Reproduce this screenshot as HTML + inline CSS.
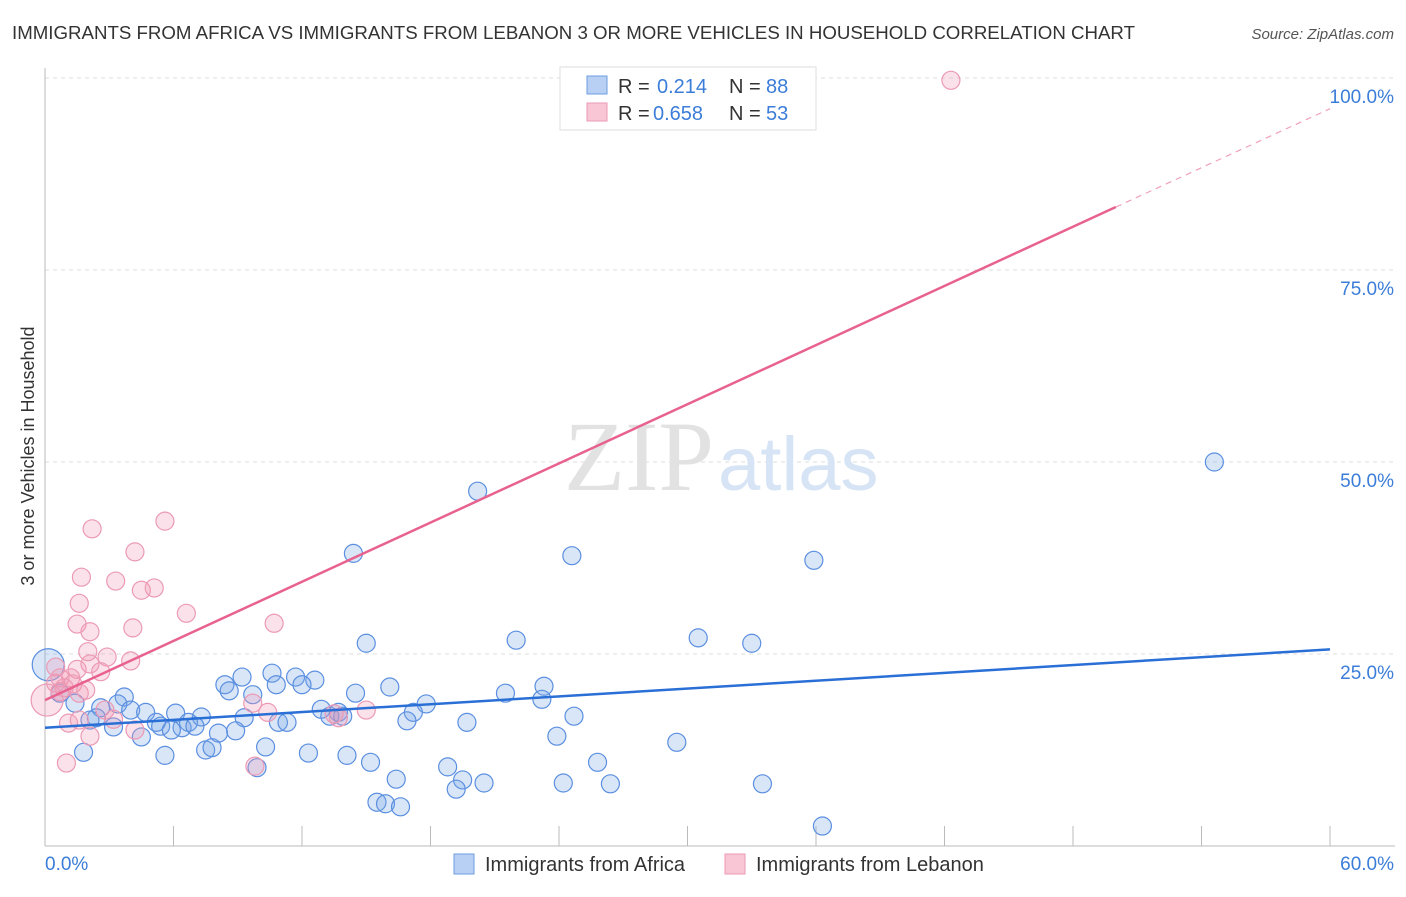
<!DOCTYPE html>
<html><head><meta charset="utf-8"><style>
body{margin:0;background:#fff;font-family:"Liberation Sans",sans-serif}
svg text{font-family:"Liberation Sans",sans-serif}
</style></head><body>
<svg width="1406" height="892" viewBox="0 0 1406 892">
<text x="12" y="39" font-size="18" fill="#333" textLength="1123" lengthAdjust="spacingAndGlyphs">IMMIGRANTS FROM AFRICA VS IMMIGRANTS FROM LEBANON 3 OR MORE VEHICLES IN HOUSEHOLD CORRELATION CHART</text>
<text x="1394" y="39" font-size="15" fill="#555" font-style="italic" text-anchor="end">Source: ZipAtlas.com</text>
<g id="grid"></g>
<text x="714" y="490" font-size="100" fill="#e2e2e2" text-anchor="end" style="font-family:'Liberation Serif',serif">ZIP</text>
<text x="718" y="490" font-size="76" fill="#d6e4f5">atlas</text>
<line x1="45" y1="68" x2="45" y2="846" stroke="#bbb"/>
<line x1="45" y1="846" x2="1395" y2="846" stroke="#bbb"/>
<g id="ticks"></g>
<g id="pts"></g>
<g id="lines"></g>
<text x="34" y="456" font-size="18" fill="#333" text-anchor="middle" transform="rotate(-90 34 456)">3 or more Vehicles in Household</text>
<text x="45" y="870" font-size="19" fill="#3b7dd8">0.0%</text>
<text x="1394" y="870" font-size="19" fill="#3b7dd8" text-anchor="end">60.0%</text>
<g>
<rect x="560" y="67" width="256" height="63" fill="#fff" stroke="#ddd"/>
<rect x="587" y="76" width="20" height="18" fill="#b7d0f3" stroke="#6c9de0"/>
<rect x="587" y="103" width="20" height="18" fill="#f8c6d5" stroke="#ec9ab4"/>
<text x="618" y="93" font-size="20" fill="#333">R = <tspan x="657" fill="#3b7dd8">0.214</tspan><tspan x="729">N = </tspan><tspan x="766" fill="#3b7dd8">88</tspan></text>
<text x="618" y="120" font-size="20" fill="#333">R = <tspan x="653" fill="#3b7dd8">0.658</tspan><tspan x="729">N = </tspan><tspan x="766" fill="#3b7dd8">53</tspan></text>
</g>
<g>
<rect x="454" y="854" width="20" height="20" fill="#b7d0f3" stroke="#6c9de0"/>
<text x="485" y="871" font-size="20" fill="#333">Immigrants from Africa</text>
<rect x="725" y="854" width="20" height="20" fill="#f8c6d5" stroke="#ec9ab4"/>
<text x="756" y="871" font-size="20" fill="#333">Immigrants from Lebanon</text>
</g>
</svg>
<script>
const yTicks=[25,50,75,100];
const yTickLabels=["25.0%","50.0%","75.0%","100.0%"];
const xTicks=[6,12,18,24,30,36,42,48,54,60];
const africaX=[54.6,20.2,14.4,24.6,35.9,15.0,22.0,30.5,33.0,0.15,10.6,9.2,11.7,12.6,8.4,10.8,12.0,16.1,23.3,8.6,14.5,21.5,9.7,23.2,3.7,3.4,17.8,1.4,0.7,2.6,4.0,4.7,12.9,13.7,17.2,6.1,7.3,24.7,13.3,13.9,2.4,6.7,9.3,16.9,2.1,10.9,11.3,19.7,3.2,5.2,5.4,6.4,7.0,5.9,8.1,8.9,4.5,23.9,29.5,10.3,7.5,7.8,1.8,5.6,12.3,14.1,15.2,25.8,18.8,9.9,16.4,19.5,20.5,24.2,26.4,33.5,19.2,15.5,15.9,16.6,36.3];
const africaY=[50.0,46.2,38.1,37.8,37.2,26.4,26.8,27.1,26.4,23.6,22.5,22.0,22.0,21.6,21.0,21.0,21.0,20.7,20.8,20.2,19.9,19.9,19.7,19.1,19.4,18.5,18.5,18.6,19.9,18.0,17.7,17.4,17.8,17.4,17.4,17.3,16.8,16.9,16.9,16.9,16.7,16.1,16.7,16.3,16.4,16.1,16.1,16.1,15.5,16.1,15.6,15.4,15.6,15.1,14.7,15.0,14.2,14.3,13.5,12.9,12.5,12.8,12.2,11.8,12.1,11.8,10.9,10.9,10.3,10.2,8.7,8.6,8.2,8.2,8.1,8.1,7.4,5.7,5.5,5.1,2.6];
const lebanonX=[42.3,5.6,2.2,4.2,1.7,3.3,4.5,5.1,1.6,6.6,1.5,10.7,2.1,4.1,2.0,2.9,4.0,2.1,1.5,0.5,2.6,1.2,0.5,0.9,0.7,0.1,1.6,9.7,10.4,13.5,13.7,15.0,3.2,1.1,1.6,4.2,2.1,9.8,1.0,0.7,1.3,1.9,2.8];
const lebanonY=[99.7,42.3,41.3,38.3,35.0,34.5,33.3,33.6,31.6,30.3,28.9,29.0,27.9,28.4,25.3,24.6,24.1,23.7,23.0,23.3,22.7,21.9,21.2,20.6,20.1,19.0,19.9,18.6,17.4,17.2,16.7,17.7,16.5,16.0,16.4,15.1,14.3,10.4,10.8,21.9,21.1,20.3,17.7];
const africaTrend=[15.4,25.6];
const lebanonTrend=[19.0,83.2,96.0];
const sx=v=>45+v/60*1285, sy=v=>846-v/100*768;
const NS="http://www.w3.org/2000/svg";
function mk(t,a,p){const e=document.createElementNS(NS,t);for(const k in a)e.setAttribute(k,a[k]);p.appendChild(e);return e;}
const grid=document.getElementById('grid');
yTicks.forEach((v,i)=>{
 const l=mk('line',{x1:45,x2:1395,y1:sy(v),y2:sy(v),stroke:'#ddd','stroke-dasharray':'4,4'},grid);
 
 
 const t=mk('text',{x:1394,y:sy(v)+25,'font-size':19,fill:'#3b7dd8','text-anchor':'end'},grid);
 t.textContent=yTickLabels[i];
 
 
});
const tk=document.getElementById('ticks');
xTicks.forEach(v=>{
 const l=mk('line',{x1:sx(v),x2:sx(v),y1:826,y2:846,stroke:'#bbb'},tk);
 
 
});
const pts=document.getElementById('pts');
function draw(X,Y,fill,stroke,name){X.forEach((x,i)=>{
 const big=x<0.3;
 const c=mk('circle',{cx:sx(x),cy:sy(Y[i]),r:big?16:9,fill:fill,stroke:stroke,'stroke-width':1.2},pts);
 
 
});}
draw(africaX,africaY,'rgba(120,165,230,0.28)','#5b8fe0','africa-point');
draw(lebanonX,lebanonY,'rgba(240,150,180,0.28)','#ec9ab4','lebanon-point');
const lg=document.getElementById('lines');
const b=mk('line',{x1:sx(0),y1:sy(africaTrend[0]),x2:sx(60),y2:sy(africaTrend[1]),stroke:'#2a6fd6','stroke-width':2.5},lg);


const p=mk('line',{x1:sx(0),y1:sy(lebanonTrend[0]),x2:sx(50),y2:sy(lebanonTrend[1]),stroke:'#e8628f','stroke-width':2.5},lg);


const pd=mk('line',{x1:sx(50),y1:sy(lebanonTrend[1]),x2:sx(60),y2:sy(lebanonTrend[2]),stroke:'#f0a0b8','stroke-width':1.2,'stroke-dasharray':'6,5'},lg);


</script>
</body></html>
